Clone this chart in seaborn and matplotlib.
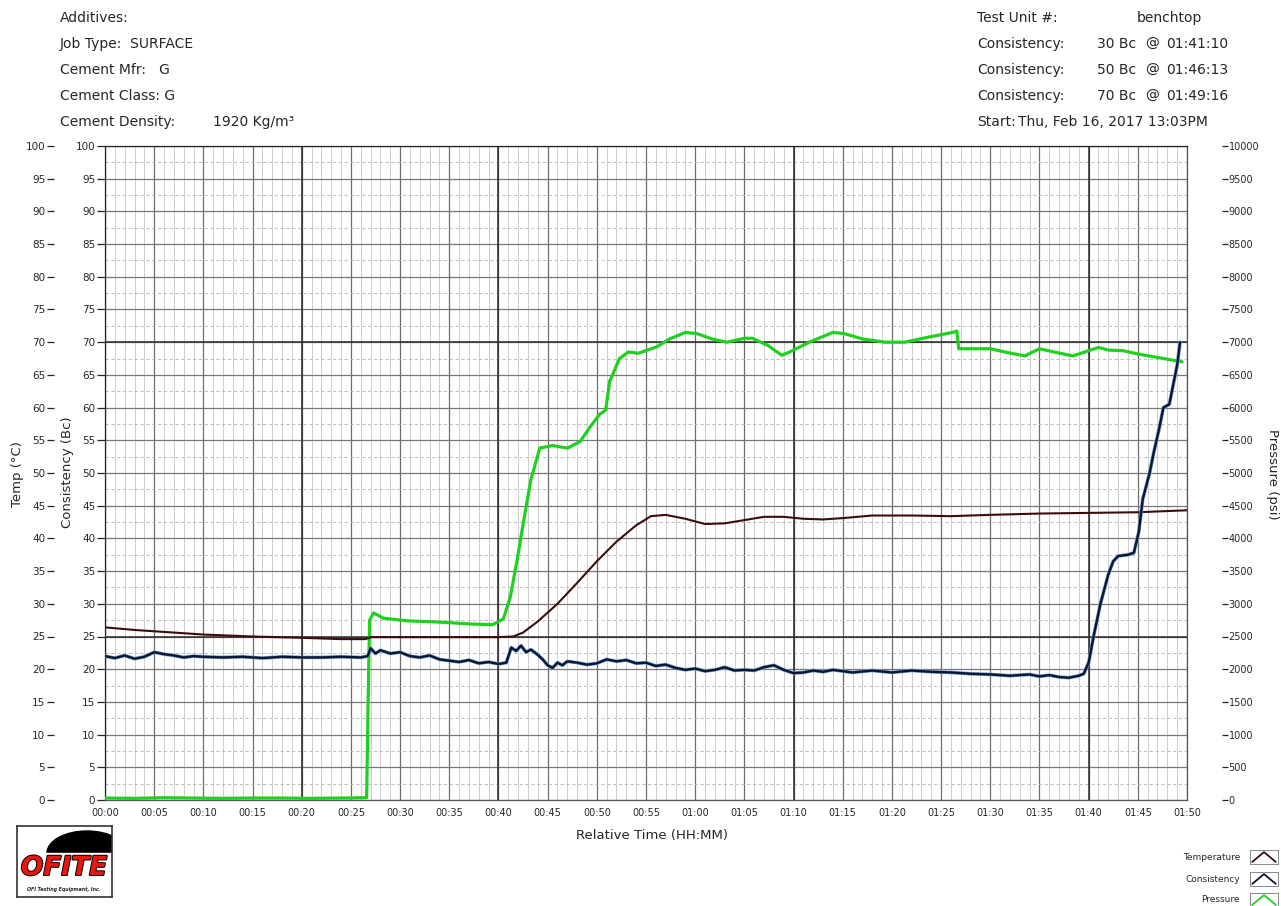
import matplotlib
matplotlib.use("Agg")
import matplotlib.pyplot as plt
import matplotlib.ticker as mticker
import matplotlib.patheffects as pe
from matplotlib.patches import Rectangle, Ellipse
import seaborn as sns

# ---------------- test data (minutes from start) ----------------
p_time = [0, 3, 6, 9, 12, 15, 18, 21, 24, 26.6, 26.75, 26.9, 27.3, 28.3, 30.7, 34, 37.4,
          39.4, 40.5, 41.2, 41.9, 42.6, 43.3, 44.2, 45.5, 47, 48.3, 49.3, 50.3, 50.9,
          51.3, 51.6, 52.3, 53.2, 54.2, 56.1, 57.4, 59, 60.2, 61.7, 63.2, 65, 65.8,
          67.4, 68.8, 69.6, 71.6, 74, 75.2, 77, 79.3, 81.3, 83.8, 86.2, 86.6, 86.8,
          88.5, 90, 91.5, 93.5, 95, 96.5, 98.4, 100, 101, 102, 103.5, 105, 106.5,
          108, 109.5]
p_psi = [30, 25, 35, 30, 25, 30, 30, 25, 30, 35, 1500, 2750, 2860, 2780, 2740, 2720, 2690,
         2680, 2770, 3100, 3670, 4300, 4900, 5380, 5420, 5380, 5480, 5700, 5900, 5960,
         6400, 6500, 6750, 6850, 6830, 6930, 7050, 7150, 7130, 7050, 7000, 7060, 7060,
         6950, 6800, 6850, 7000, 7150, 7130, 7050, 7000, 7000, 7080, 7150, 7170, 6900,
         6900, 6900, 6850, 6790, 6900, 6850, 6790, 6870, 6920, 6880, 6870, 6820, 6780,
         6740, 6700]

t_time = [0, 3, 6, 10, 15, 20, 24, 26.5, 27, 30, 35, 40, 41.5, 42.5, 44, 46, 48, 50,
          52, 54, 55.5, 57, 59, 61, 63, 65, 67, 69, 71, 73, 75, 78, 82, 86, 90, 95,
          100, 105, 110]
t_degc = [26.4, 26.0, 25.7, 25.3, 25.0, 24.8, 24.6, 24.6, 24.9, 24.9, 24.9, 24.9,
          25.0, 25.6, 27.3, 30.0, 33.2, 36.5, 39.5, 42.0, 43.4, 43.6, 43.0, 42.2,
          42.3, 42.8, 43.3, 43.3, 43.0, 42.9, 43.1, 43.5, 43.5, 43.4, 43.6, 43.8,
          43.9, 44.0, 44.3]

c_time = [0, 1, 2, 3, 4, 5, 6, 7, 8, 9, 10, 12, 14, 16, 18, 20, 22, 24, 26, 26.7, 27,
          27.5, 28, 29, 30, 31, 32, 33, 34, 35, 36, 37, 38, 39, 40, 40.8, 41.3, 41.8,
          42.3, 42.8, 43.3, 44, 44.5, 45, 45.5, 46, 46.5, 47, 48, 49, 50, 51, 52, 53,
          54, 55, 56, 57, 58, 59, 60, 61, 62, 63, 64, 65, 66, 67, 68, 69, 70, 71, 72,
          73, 74, 75, 76, 78, 80, 82, 84, 86, 88, 90, 92, 94, 95, 96, 97, 98, 99,
          99.5, 100, 100.5, 101.2, 102, 102.5, 103, 104, 104.6, 105.1, 105.5, 106.2,
          106.6, 107.2, 107.6, 108.2, 108.6, 109, 109.3]
c_bc = [22.0, 21.7, 22.1, 21.6, 21.9, 22.6, 22.3, 22.1, 21.8, 22.0, 21.9, 21.8, 21.9,
        21.7, 21.9, 21.8, 21.8, 21.9, 21.8, 22.0, 23.2, 22.4, 22.9, 22.4, 22.6, 22.0,
        21.8, 22.1, 21.5, 21.3, 21.1, 21.4, 20.9, 21.1, 20.8, 21.0, 23.3, 22.8, 23.6,
        22.6, 23.0, 22.2, 21.5, 20.6, 20.2, 21.0, 20.6, 21.2, 21.0, 20.7, 20.9, 21.5,
        21.2, 21.4, 20.9, 21.0, 20.5, 20.7, 20.2, 19.9, 20.1, 19.7, 19.9, 20.3, 19.8,
        19.9, 19.8, 20.3, 20.6, 19.9, 19.4, 19.5, 19.8, 19.6, 19.9, 19.7, 19.5, 19.8,
        19.5, 19.8, 19.6, 19.5, 19.3, 19.2, 19.0, 19.2, 18.9, 19.1, 18.8, 18.7, 19.0,
        19.3, 21.0, 25.0, 30.0, 34.5, 36.5, 37.3, 37.5, 37.8, 41.0, 46.0, 50.0, 53.0,
        57.0, 60.0, 60.5, 63.5, 66.5, 70.0]

header_left = ["Additives:", "Job Type:  SURFACE", "Cement Mfr:   G",
               "Cement Class: G", "Cement Density:"]
density_text = "1920 Kg/m³"
bc_levels = ["30 Bc", "50 Bc", "70 Bc"]
bc_times = ["01:41:10", "01:46:13", "01:49:16"]
start_text = "Thu, Feb 16, 2017 13:03PM"
legend_names = ["Temperature", "Consistency", "Pressure"]

# ---------------- styling ----------------
sns.set_style("white")
plt.rcParams['font.family'] = ['DejaVu Sans']

GREEN = "#1fd01f"
BROWN = "#3c0c0c"
NAVY = "#0b1631"
HALO = "#6f9ed6"

W, H = 1281, 906
fig = plt.figure(figsize=(W / 100, H / 100), dpi=100)


def fx(px):
    return px / W


def fy(py):
    return 1 - py / H


L, R, T, B = 105, 1187, 146, 800
ax = fig.add_axes([fx(L), fy(B), (R - L) / W, (B - T) / H])
ax.set_xlim(0, 110)
ax.set_ylim(0, 100)

# grid
ax.xaxis.set_major_locator(mticker.MultipleLocator(5))
ax.xaxis.set_minor_locator(mticker.MultipleLocator(1))
ax.yaxis.set_major_locator(mticker.MultipleLocator(5))
ax.yaxis.set_minor_locator(mticker.MultipleLocator(2.5))
ax.xaxis.grid(True, which='major', color='#6e6e6e', lw=0.9)
ax.yaxis.grid(True, which='major', color='#777777', lw=0.9)
ax.xaxis.grid(True, which='minor', color='#c6c6c6', lw=0.6)
ax.yaxis.grid(True, which='minor', color='#b4b4b4', lw=0.6, ls=(0, (4, 3)))
for v in (20, 40, 70, 100):
    ax.axvline(v, color='#2a2a2a', lw=1.1, zorder=0.9)
for h in (25, 70):
    ax.axhline(h, color='#2a2a2a', lw=1.1, zorder=0.9)

ax.xaxis.set_major_formatter(
    mticker.FuncFormatter(lambda m, _: f"{int(round(m)) // 60:02d}:{int(round(m)) % 60:02d}"))
ax.tick_params(axis='x', which='major', direction='out', length=4, width=0.9,
               labelsize=7, pad=2, color='#222222')
ax.tick_params(axis='y', which='major', direction='out', length=6, width=0.9,
               labelsize=7.5, pad=1, color='#222222')
ax.tick_params(which='minor', length=0)
for s in ax.spines.values():
    s.set_color('#555555')
    s.set_linewidth(0.9)
ax.spines['left'].set_color('#222222')
ax.spines['top'].set_color('#222222')

# pressure axis (right)
ax_p = ax.twinx()
ax_p.set_ylim(0, 10000)
ax_p.yaxis.set_major_locator(mticker.MultipleLocator(500))
ax_p.spines['right'].set_position(('outward', 25))
for s in ax_p.spines.values():
    s.set_visible(False)
ax_p.tick_params(axis='y', direction='out', length=4, width=0.9, labelsize=7,
                 pad=1, color='#222222')
sns.lineplot(x=p_time, y=p_psi, ax=ax_p, color=GREEN, lw=2.3,
             estimator=None, sort=False)

# temperature axis (outer left)
ax_t = ax.twinx()
ax_t.set_ylim(0, 100)
ax_t.yaxis.set_major_locator(mticker.MultipleLocator(5))
ax_t.yaxis.tick_left()
ax_t.spines['left'].set_position(('outward', 37))
for s in ax_t.spines.values():
    s.set_visible(False)
ax_t.tick_params(axis='y', direction='out', length=5, width=0.9, labelsize=7.5,
                 pad=1, color='#222222')
sns.lineplot(x=t_time, y=t_degc, ax=ax_t, color=BROWN, lw=1.5,
             estimator=None, sort=False)

# consistency trace drawn on top, sharing the inner left scale
ax_c = ax.twinx()
ax_c.set_ylim(0, 100)
ax_c.set_yticks([])
for s in ax_c.spines.values():
    s.set_visible(False)
sns.lineplot(x=c_time, y=c_bc, ax=ax_c, color=NAVY, lw=1.7,
             estimator=None, sort=False,
             path_effects=[pe.Stroke(linewidth=2.6, foreground=HALO), pe.Normal()])

for a in (ax, ax_p, ax_t, ax_c):
    a.set_xlim(0, 110)
    a.set_xlabel("")
    a.set_ylabel("")
for a in (ax_p, ax_t, ax_c):
    a.patch.set_visible(False)

# axis titles
fig.text(fx(652), fy(836), "Relative Time (HH:MM)", ha='center', va='center', fontsize=9.5)
fig.text(fx(17), fy(474), "Temp (°C)", rotation=90, ha='center', va='center', fontsize=9.5)
fig.text(fx(68), fy(472), "Consistency (Bc)", rotation=90, ha='center', va='center', fontsize=9.5)
fig.text(fx(1272), fy(474), "Pressure (psi)", rotation=270, ha='center', va='center', fontsize=9.5)

# header block
HFS = 10
rows = [18, 44, 70, 96, 122]
for txt, yy in zip(header_left, rows):
    fig.text(fx(60), fy(yy), txt, ha='left', va='center', fontsize=HFS)
fig.text(fx(213), fy(rows[4]), density_text, ha='left', va='center', fontsize=HFS)

fig.text(fx(977), fy(rows[0]), "Test Unit #:", ha='left', va='center', fontsize=HFS)
fig.text(fx(1137), fy(rows[0]), "benchtop", ha='left', va='center', fontsize=HFS)
for lvl, tm, yy in zip(bc_levels, bc_times, rows[1:4]):
    fig.text(fx(977), fy(yy), "Consistency:", ha='left', va='center', fontsize=HFS)
    fig.text(fx(1097), fy(yy), lvl, ha='left', va='center', fontsize=HFS)
    fig.text(fx(1145), fy(yy), "@", ha='left', va='center', fontsize=HFS)
    fig.text(fx(1166), fy(yy), tm, ha='left', va='center', fontsize=HFS)
fig.text(fx(977), fy(rows[4]), "Start:", ha='left', va='center', fontsize=HFS)
fig.text(fx(1018), fy(rows[4]), start_text, ha='left', va='center', fontsize=HFS)

# legend key
for name, col, yy in zip(legend_names, [BROWN, NAVY, GREEN], [857, 879, 900]):
    fig.text(fx(1240), fy(yy), name, ha='right', va='center', fontsize=6.5)
    kax = fig.add_axes([fx(1250), fy(yy + 7), 28 / W, 14 / H])
    kax.set_xlim(0, 1)
    kax.set_ylim(0, 1)
    kax.plot([0.08, 0.5, 0.92], [0.15, 0.85, 0.15], color=col, lw=1.3)
    kax.set_xticks([])
    kax.set_yticks([])
    for s in kax.spines.values():
        s.set_color('#777777')
        s.set_linewidth(0.6)

# company logo
lax = fig.add_axes([fx(17), fy(897), 95 / W, 71 / H])
lax.set_xlim(0, 95)
lax.set_ylim(0, 71)
lax.set_xticks([])
lax.set_yticks([])
for s in lax.spines.values():
    s.set_color('#333333')
    s.set_linewidth(1.2)
lax.add_patch(Ellipse((70, 44), 80, 44, color='black', zorder=1))
lax.add_patch(Rectangle((0, 0), 95, 44, color='white', zorder=2))
lax.text(47, 29, "OFITE", ha='center', va='center', fontsize=19, fontweight='bold',
         style='italic', color='#e8160c', zorder=3, clip_on=True,
         path_effects=[pe.Stroke(linewidth=1.4, foreground='black'), pe.Normal()])
lax.text(47, 7, "OFI Testing Equipment, Inc.", ha='center', va='center', fontsize=3.4,
         style='italic', fontweight='bold', zorder=3)

fig.savefig("out.png", dpi=100, facecolor='white')
